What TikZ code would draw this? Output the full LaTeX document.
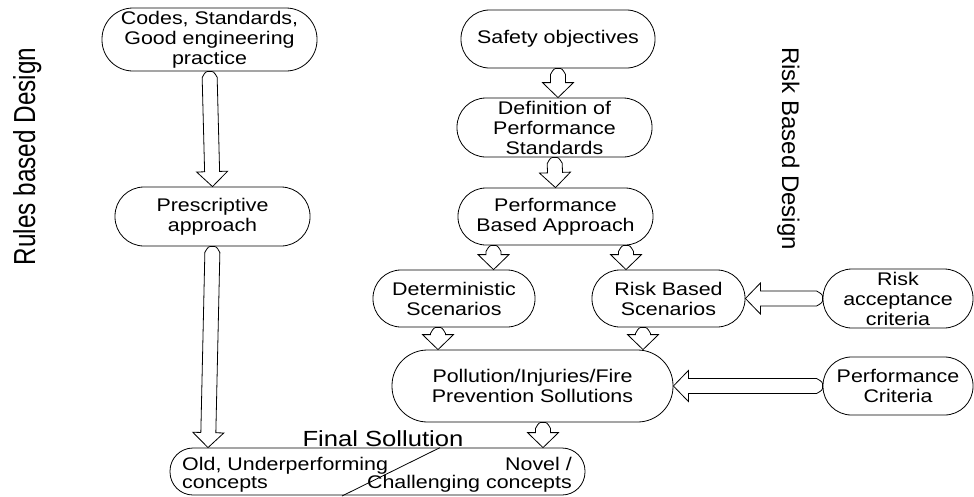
\documentclass[tikz,border=0pt]{standalone}
\usepackage{fontspec}
\setmainfont{Liberation Sans}[FakeStretch=1.17]
\newfontfamily\plainsans{Liberation Sans}
\usepackage{graphicx}
\usetikzlibrary{calc}
\newcommand\nodefont{\fontsize{18.3}{20}\selectfont}
\newcommand\fatarrow[2]{%
  \coordinate (fa-s) at #1;
  \coordinate (fa-e) at #2;
  \coordinate (fa-a) at ($(fa-s)!6pt!(fa-e)$);
  \coordinate (fa-n) at ($(fa-e)!15pt!(fa-s)$);
  \draw[fatarr] (fa-s) .. controls ($(fa-s)!4pt!90:(fa-e)$) .. ($(fa-a)!7.5pt!90:(fa-e)$)
    -- ($(fa-n)!7.5pt!90:(fa-e)$) -- ($(fa-n)!15.5pt!90:(fa-e)$) -- (fa-e)
    -- ($(fa-n)!15.5pt!-90:(fa-e)$) -- ($(fa-n)!7.5pt!-90:(fa-e)$)
    -- ($(fa-a)!7.5pt!-90:(fa-e)$) .. controls ($(fa-s)!4pt!-90:(fa-e)$) .. (fa-s) -- cycle;
}
\tikzset{
  box/.style={draw, line width=0.8pt, fill=white, align=center, font=\nodefont, inner sep=0pt},
  fatarr/.style={draw, line width=0.8pt, fill=white, line join=miter},
}
\begin{document}
\begin{tikzpicture}[x=1pt, y=-1pt]
\useasboundingbox (0,0) rectangle (974,496);
% side labels
\node[rotate=90, anchor=base, inner sep=0pt, font=\plainsans\fontsize{24.3}{28}\selectfont] (rules) at (35,156.5) {\scalebox{1}[1.25]{Rules based Design}};
\node[rotate=-90, anchor=base, inner sep=0pt, font=\plainsans\fontsize{24}{28}\selectfont] (riskd) at (782,148.5) {Risk Based Design};
% left column
\node[box, minimum width=215pt, minimum height=63pt, rounded corners=31pt] (codes) at (209.5,39.5) {Codes, Standards,\\Good engineering\\practice};
\node[box, minimum width=195pt, minimum height=59pt, rounded corners=29pt] (presc) at (212.5,216.5) {Prescriptive\\approach};
% right column
\node[box, minimum width=194pt, minimum height=58pt, rounded corners=28.5pt] (safety) at (558,39) {Safety objectives};
\node[box, minimum width=195pt, minimum height=59pt, rounded corners=29pt] (defn) at (554.5,127.5) {Definition of\\Performance\\Standards};
\node[box, minimum width=195pt, minimum height=57pt, rounded corners=28pt] (pba) at (555.5,216.5) {Performance\\Based Approach};
\node[box, minimum width=162pt, minimum height=57pt, rounded corners=28pt] (det) at (454,298.5) {Deterministic\\Scenarios};
\node[box, minimum width=153pt, minimum height=57pt, rounded corners=28pt] (rbs) at (668.5,298.5) {Risk Based\\Scenarios};
\node[box, minimum width=150pt, minimum height=59pt, rounded corners=29pt] (rac) at (898,298.5) {Risk\\acceptance\\criteria};
\node[box, minimum width=150pt, minimum height=58pt, rounded corners=28.5pt] (pc) at (898,386) {Performance\\Criteria};
\node[box, minimum width=281pt, minimum height=72pt, rounded corners=35.5pt] (poll) at (532.5,386) {Pollution/Injuries/Fire\\Prevention Sollutions};
\node[box, minimum width=415pt, minimum height=47pt, rounded corners=23pt] (final) at (377.5,471.5) {};
\node[anchor=base, inner sep=0pt, font=\fontsize{21.9}{24}\selectfont] (ftitle) at (383,446) {Final Sollution};
\node[anchor=north west, inner sep=0pt, align=left, font=\fontsize{18.3}{18}\selectfont] (oldtxt) at (182,457) {Old, Underperforming\\concepts};
\node[anchor=north east, inner sep=0pt, align=right, font=\fontsize{18.3}{18}\selectfont] (noveltxt) at (572,457) {Novel /\\Challenging concepts};
\coordinate (diagend) at (342,496);
\draw[line width=0.8pt] ($(final.north)+(62.5,0)$) -- (diagend);
% arrows
\fatarrow{(codes.south)}{(presc.north)}
\fatarrow{(presc.south)}{($(final.north)+(-169.5,0)$)}
\fatarrow{(safety.south)}{(safety.south |- defn.north)}
\fatarrow{(defn.south)}{(pba.north)}
\fatarrow{($(pba.south)+(-62,0)$)}{($(det.north)+(39.5,0)$)}
\fatarrow{($(pba.south)+(70.5,0)$)}{($(rbs.north)+(-42.5,0)$)}
\fatarrow{($(det.south)+(-16,0)$)}{($(poll.north)+(-94.5,0)$)}
\fatarrow{($(rbs.south)+(-25.5,0)$)}{($(poll.north)+(110.5,0)$)}
\fatarrow{($(poll.south)+(10.5,0)$)}{($(final.north)+(165.5,0)$)}
\fatarrow{(rac.west)}{(rbs.east)}
\fatarrow{(pc.west)}{(poll.east)}
\end{tikzpicture}
\end{document}
